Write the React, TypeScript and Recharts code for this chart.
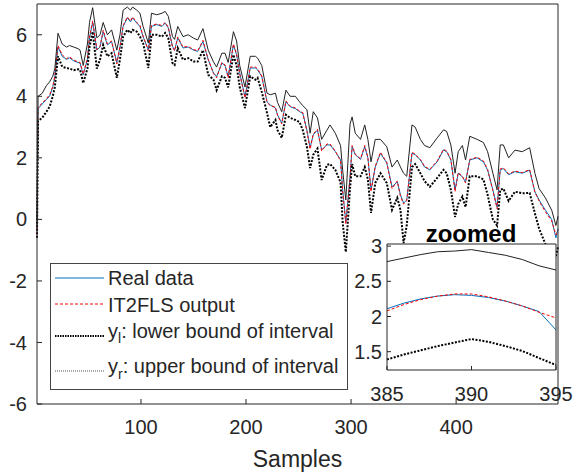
import { LineChart, Line, XAxis, YAxis, CartesianGrid } from "recharts";

// main plot: sample index on x
const samples = [
  1, 2, 6, 10, 13, 16, 18, 21, 25, 29, 32, 36, 40, 42, 45, 49, 51, 54, 58, 61,
  64, 68, 72, 77, 80, 83, 87, 90, 92, 96, 99, 102, 107, 110, 115, 120, 123, 126, 130, 132,
  135, 140, 145, 150, 154, 159, 164, 169, 172, 177, 180, 183, 188, 191, 194, 199, 204, 209, 211, 215,
  220, 223, 228, 230, 234, 238, 242, 247, 251, 254, 258, 261, 264, 268, 272, 277, 280, 285, 290, 292,
  295, 299, 301, 304, 309, 313, 316, 319, 323, 328, 334, 339, 344, 347, 350, 353, 358, 361, 366, 370,
  375, 382, 388, 391, 395, 399, 402, 406, 409, 413, 420, 426, 430, 435, 439, 442, 445, 450, 456, 463,
  470, 475, 479, 485, 491, 495, 497,
];

const realData = [
  -0.4, 3.6, 3.75, 3.9, 4.0, 4.3, 4.63, 5.6, 5.3, 5.2, 5.25, 5.15, 5.1, 5.08, 4.7, 5.2, 5.9, 6.4, 5.5, 5.6,
  6.1, 5.67, 5.78, 5.1, 5.6, 6.27, 6.55, 6.42, 6.55, 6.38, 6.27, 5.94, 5.51, 6.27, 6.33, 6.27, 6.38, 6.22, 5.62, 5.5,
  5.9, 5.57, 5.6, 5.5, 5.46, 5.78, 5.19, 4.76, 4.64, 5.08, 5.0, 4.64, 5.67, 5.35, 4.76, 3.98, 4.92, 4.92, 4.86, 4.64,
  3.82, 3.72, 3.62, 3.4, 3.13, 3.82, 3.66, 3.6, 3.5, 3.45, 2.9, 2.33, 2.75, 2.9, 2.26, 2.42, 2.42, 2.2, 1.94, 0.96,
  -0.1, 1.38, 2.36, 2.1, 1.95, 2.36, 2.0, 0.96, 1.7, 2.15, 1.83, 1.06, 1.22, 0.8, 0.53, 0.63, 2.15, 2.1, 1.93, 1.7,
  1.61, 1.87, 2.26, 2.2, 1.93, 0.96, 1.5, 1.38, 1.22, 1.93, 2.0, 1.87, 1.6, 0.96, 0.4, 1.61, 1.65, 1.45, 1.55, 1.5,
  1.6, 0.9, 0.63, 0.3, 0.0, -0.6, -0.3,
];

const it2flsData = [
  -0.5, 3.65, 3.78, 3.92, 4.05, 4.32, 4.66, 5.65, 5.35, 5.22, 5.28, 5.18, 5.12, 5.1, 4.72, 5.24, 5.95, 6.45, 5.52, 5.62,
  6.15, 5.7, 5.8, 5.05, 5.62, 6.3, 6.58, 6.45, 6.58, 6.4, 6.3, 5.96, 5.48, 6.3, 6.35, 6.3, 6.4, 6.25, 5.6, 5.48,
  5.93, 5.6, 5.62, 5.52, 5.48, 5.82, 5.2, 4.74, 4.6, 5.1, 5.02, 4.6, 5.7, 5.38, 4.72, 3.95, 4.95, 4.95, 4.9, 4.66,
  3.8, 3.7, 3.65, 3.38, 3.1, 3.85, 3.68, 3.62, 3.52, 3.47, 2.85, 2.28, 2.78, 2.93, 2.22, 2.45, 2.45, 2.22, 1.9, 0.92,
  -0.15, 1.35, 2.4, 2.12, 1.97, 2.4, 2.02, 0.9, 1.72, 2.18, 1.85, 1.0, 1.25, 0.75, 0.5, 0.6, 2.18, 2.12, 1.95, 1.72,
  1.63, 1.9, 2.28, 2.22, 1.95, 0.9, 1.52, 1.4, 1.18, 1.95, 2.02, 1.9, 1.62, 0.92, 0.35, 1.64, 1.68, 1.48, 1.57, 1.52,
  1.62, 0.88, 0.6, 0.25, -0.05, -0.5, -0.35,
];

const lowerData = [
  -0.6, 3.2, 3.3, 3.5, 3.66, 4.0, 4.3, 5.3, 4.96, 4.92, 4.9, 4.85, 4.88, 4.86, 4.43, 4.9, 5.6, 6.1, 4.9, 5.2,
  5.67, 5.3, 5.4, 4.6, 5.2, 5.94, 6.16, 6.06, 6.16, 6.1, 5.94, 5.73, 4.92, 6.0, 6.0, 5.94, 6.06, 5.89, 5.08, 5.02,
  5.57, 5.19, 5.24, 5.13, 5.13, 5.5, 4.7, 4.54, 4.2, 4.65, 4.6, 4.29, 5.35, 5.0, 4.3, 3.62, 4.65, 4.54, 4.6, 4.14,
  3.46, 3.0, 3.23, 2.9, 2.65, 3.4, 3.3, 3.23, 3.16, 2.9, 2.36, 1.67, 2.1, 2.3, 1.28, 1.77, 1.8, 1.61, 1.2, -0.1,
  -1.06, 1.0, 1.8, 1.4, 1.4, 1.7, 1.3, 0.21, 1.18, 1.5, 1.18, 0.31, 0.7, 0.31, -0.77, -0.2, 1.7, 1.8, 1.5, 1.24,
  1.06, 1.35, 1.61, 1.5, 0.96, 0.08, 0.5, 0.74, 0.4, 1.4, 1.4, 1.3, 0.8, 0.0, -0.2, 0.96, 1.0, 0.6, 0.9, 0.85,
  0.86, 0.2, -0.3, -0.8, -1.0, -1.2, -0.9,
];

const upperData = [
  -0.2, 4.0, 4.1, 4.35, 4.47, 4.65, 4.9, 6.05, 5.7, 5.6, 5.65, 5.6, 5.55, 5.5, 5.0, 5.7, 6.4, 6.88, 5.9, 6.0,
  6.4, 6.0, 6.16, 5.5, 6.0, 6.8, 6.9, 6.8, 6.9, 6.8, 6.7, 6.27, 5.73, 6.7, 6.65, 6.7, 6.76, 6.6, 5.94, 5.85,
  6.27, 5.94, 6.0, 5.89, 5.83, 6.2, 5.5, 5.12, 4.95, 5.4, 5.4, 5.1, 6.1, 5.8, 5.0, 4.3, 5.3, 5.3, 5.24, 5.0,
  4.1, 4.05, 4.1, 3.8, 3.5, 4.2, 4.0, 4.0, 3.82, 3.7, 3.56, 2.8, 3.5, 3.3, 2.6, 2.9, 3.07, 2.8, 2.4, 1.6,
  0.63, 3.1, 3.33, 2.8, 2.6, 3.07, 2.6, 1.87, 2.6, 2.6, 2.36, 1.7, 1.93, 1.7, 1.5, 1.4, 3.07, 3.0, 2.6, 2.4,
  2.33, 2.65, 2.91, 2.86, 2.42, 1.5, 2.2, 2.4, 1.93, 2.7, 2.6, 2.5, 2.2, 1.5, 0.96, 2.42, 2.42, 2.0, 2.25, 2.2,
  2.33, 1.5, 1.0, 0.7, 0.3, -0.2, 0.1,
];

const xTicks = [100, 200, 300, 400];
const yTicks = [-6, -4, -2, 0, 2, 4, 6];

// zoomed inset
const zoomSamples = [385, 386, 387, 388, 389, 390, 391, 392, 393, 394, 395];
const zoomReal = [2.11, 2.19, 2.25, 2.29, 2.31, 2.3, 2.27, 2.22, 2.15, 2.07, 1.81];
const zoomIt2fls = [2.08, 2.17, 2.24, 2.29, 2.32, 2.32, 2.28, 2.22, 2.15, 2.06, 1.98];
const zoomLower = [1.39, 1.46, 1.52, 1.58, 1.63, 1.68, 1.64, 1.58, 1.51, 1.41, 1.31];
const zoomUpper = [2.78, 2.83, 2.88, 2.92, 2.93, 2.95, 2.91, 2.87, 2.81, 2.72, 2.66];
const zoomXTicks = [385, 390, 395];
const zoomYTicks = [1.5, 2, 2.5, 3];

const AXIS = "#262626";
const BLUE = "#0072BD";
const RED = "#FF0000";

const mainRows = samples.map((s, i) => ({
  sample: s,
  real: realData[i],
  it2fls: it2flsData[i],
  lower: lowerData[i],
  upper: upperData[i],
}));

const zoomRows = zoomSamples.map((s, i) => ({
  sample: s,
  real: zoomReal[i],
  it2fls: zoomIt2fls[i],
  lower: zoomLower[i],
  upper: zoomUpper[i],
}));

const tickStyle = { fill: AXIS, fontSize: 20 };
const axisLine = { stroke: AXIS, strokeWidth: 1 };

function Series() {
  return [
    <Line key="real" dataKey="real" type="linear" stroke={BLUE} strokeWidth={1} dot={false} isAnimationActive={false} />,
    <Line key="it2" dataKey="it2fls" type="linear" stroke={RED} strokeWidth={1} strokeDasharray="3 2" dot={false} isAnimationActive={false} />,
    <Line key="lower" dataKey="lower" type="linear" stroke="#000" strokeWidth={2} strokeDasharray="2 1.5" dot={false} isAnimationActive={false} />,
    <Line key="upper" dataKey="upper" type="linear" stroke="#222" strokeWidth={1} dot={false} isAnimationActive={false} />,
  ];
}

const legendRows = [
  { label: <>Real data</>, stroke: BLUE, width: 1, dash: undefined, lineY: 14, textTop: 4 },
  { label: <>IT2FLS output</>, stroke: RED, width: 1, dash: "3 2", lineY: 40, textTop: 31 },
  {
    label: (
      <>
        y<span style={{ fontSize: 14, position: "relative", top: 5 }}>l</span>: lower bound of interval
      </>
    ),
    stroke: "#000",
    width: 2,
    dash: "1.5 1",
    lineY: 72,
    textTop: 57,
  },
  {
    label: (
      <>
        y<span style={{ fontSize: 14, position: "relative", top: 6 }}>r</span>: upper bound of interval
      </>
    ),
    stroke: "#555",
    width: 1,
    dash: "1 1",
    lineY: 107,
    textTop: 92,
  },
];

export default function App() {
  return (
    <div
      style={{
        position: "absolute",
        left: 0,
        top: 0,
        width: 574,
        height: 473,
        background: "#fff",
        fontFamily: "'Liberation Sans', Arial, sans-serif",
        color: AXIS,
      }}
    >
      <LineChart width={574} height={473} data={mainRows} margin={{ top: 3, right: 15, bottom: 0, left: 0 }}>
        <XAxis
          dataKey="sample"
          type="number"
          domain={[1, 497]}
          ticks={xTicks}
          height={69}
          axisLine={axisLine}
          tickLine={{ stroke: AXIS }}
          tickSize={-5}
          tickMargin={21}
          tick={tickStyle}
          label={{ value: "Samples", position: "insideBottom", offset: 6, fill: AXIS, fontSize: 23 }}
        />
        <XAxis
          xAxisId="top"
          orientation="top"
          type="number"
          domain={[1, 497]}
          ticks={xTicks}
          height={1}
          axisLine={axisLine}
          tickLine={{ stroke: AXIS }}
          tickSize={-5}
          tick={false}
        />
        <YAxis
          type="number"
          domain={[-6, 7]}
          ticks={yTicks}
          width={37}
          axisLine={axisLine}
          tickLine={{ stroke: AXIS }}
          tickSize={-5}
          tickMargin={15}
          tick={tickStyle}
        />
        <YAxis
          yAxisId="right"
          orientation="right"
          type="number"
          domain={[-6, 7]}
          ticks={yTicks}
          width={1}
          axisLine={axisLine}
          tickLine={{ stroke: AXIS }}
          tickSize={-5}
          tick={false}
        />
        {Series()}
      </LineChart>

      {/* legend */}
      <div
        style={{
          position: "absolute",
          left: 50,
          top: 263,
          width: 296,
          height: 125,
          background: "#fff",
          border: "1px solid #444",
          fontSize: 20,
          lineHeight: "20px",
        }}
      >
        {legendRows.map((r, i) => (
          <div key={i}>
            <svg style={{ position: "absolute", left: 4, top: r.lineY - 3 }} width={49} height={6}>
              <line x1={0} x2={49} y1={3} y2={3} stroke={r.stroke} strokeWidth={r.width} strokeDasharray={r.dash} />
            </svg>
            <div style={{ position: "absolute", left: 57, top: r.textTop, whiteSpace: "nowrap" }}>{r.label}</div>
          </div>
        ))}
      </div>

      {/* zoomed inset */}
      <div
        style={{
          position: "absolute",
          left: 400,
          top: 222,
          width: 142,
          textAlign: "center",
          fontSize: 24,
          lineHeight: "24px",
          fontWeight: "bold",
          color: "#000",
        }}
      >
        zoomed
      </div>
      <div style={{ position: "absolute", left: 340, top: 215 }}>
        <LineChart width={234} height={191} data={zoomRows} margin={{ top: 28, right: 17, bottom: 0, left: 0 }}>
          <CartesianGrid fill="#fff" horizontal={false} vertical={false} />
          <XAxis
            dataKey="sample"
            type="number"
            domain={[385, 395]}
            ticks={zoomXTicks}
            height={36}
            axisLine={axisLine}
            tickLine={{ stroke: AXIS }}
            tickSize={-4}
            tickMargin={21}
            tick={tickStyle}
          />
          <XAxis
            xAxisId="top"
            orientation="top"
            type="number"
            domain={[385, 395]}
            ticks={zoomXTicks}
            height={1}
            axisLine={axisLine}
            tickLine={{ stroke: AXIS }}
            tickSize={-4}
            tick={false}
          />
          <YAxis
            type="number"
            domain={[1.24, 3.03]}
            ticks={zoomYTicks}
            width={47}
            allowDataOverflow
            axisLine={axisLine}
            tickLine={{ stroke: AXIS }}
            tickSize={-4}
            tickMargin={9}
            tick={tickStyle}
          />
          <YAxis
            yAxisId="right"
            orientation="right"
            type="number"
            domain={[1.24, 3.03]}
            ticks={zoomYTicks}
            width={1}
            axisLine={axisLine}
            tickLine={{ stroke: AXIS }}
            tickSize={-4}
            tick={false}
          />
          {Series()}
        </LineChart>
      </div>
    </div>
  );
}
